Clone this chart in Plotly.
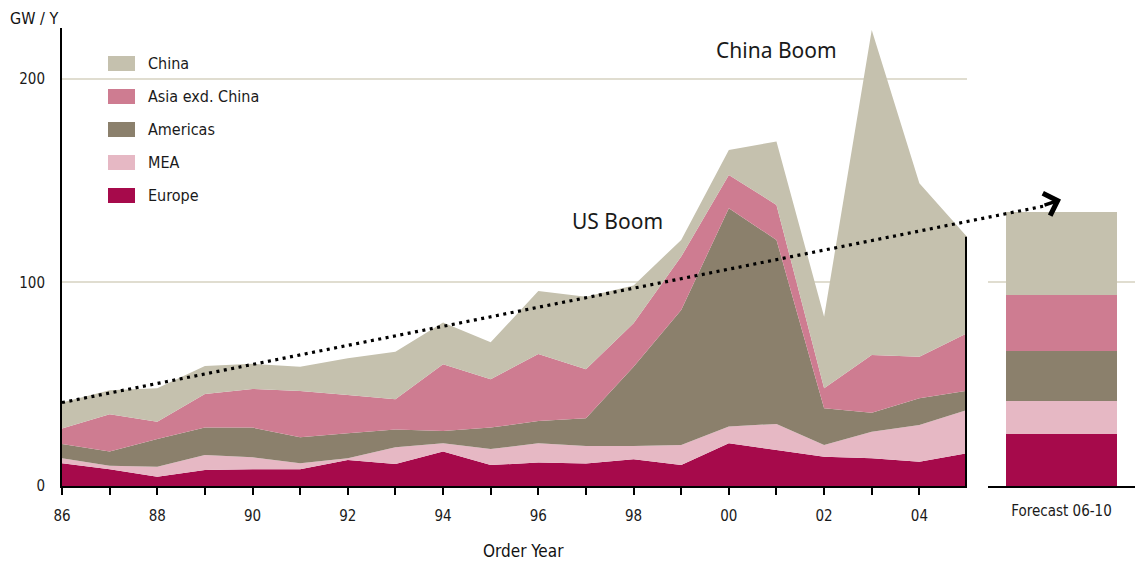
import plotly.graph_objects as go

# ---------------- data ----------------
years = list(range(1986, 2006))
tick_labels = ["86", "", "88", "", "90", "", "92", "", "94", "", "96", "", "98", "", "00", "", "02", "", "04"]

series_names = ["Europe", "MEA", "Americas", "Asia exd. China", "China"]
europe   = [11.2, 8.2, 4.6, 7.9, 8.2, 8.2, 12.8, 10.8, 16.9, 10.3, 11.5, 11.1, 13.1, 10.3, 21.0, 17.7, 14.4, 13.6, 11.9, 16.1]
mea      = [2.4, 1.8, 4.9, 7.3, 5.9, 3.0, 0.8, 8.2, 4.1, 7.9, 9.5, 8.6, 6.6, 9.8, 8.2, 12.8, 5.7, 13.1, 18.1, 21.2]
americas = [7.0, 6.9, 13.6, 13.5, 14.6, 12.7, 12.3, 8.8, 6.0, 10.5, 10.9, 13.6, 38.9, 66.4, 107.2, 90.4, 18.1, 9.3, 13.1, 9.5]
asia     = [7.7, 18.3, 8.5, 16.5, 19.0, 22.8, 18.8, 14.8, 32.8, 23.7, 33.0, 24.0, 21.4, 26.2, 16.4, 17.2, 9.8, 28.4, 20.4, 28.2]
china    = [12.7, 11.8, 16.4, 13.8, 12.3, 11.9, 18.0, 23.4, 20.5, 18.2, 30.9, 35.7, 18.5, 8.2, 12.3, 31.1, 35.2, 159.6, 85.2, 47.5]

forecast_label = "Forecast 06-10"
forecast = [25.4, 16.5, 24.6, 27.4, 40.6]   # Europe, MEA, Americas, Asia exd. China, China

trend_start = 41.0    # GW/Y at 1986
trend_end = 137.5     # GW/Y at arrow tail (forecast side)

# ---------------- styling ----------------
colors = ["#a60a4b", "#e6b8c4", "#8b806c", "#ce7c91", "#c5c1ae"]
grid_color = "#e0ddd0"
narrow = "Liberation Sans Narrow, DejaVu Sans Condensed, Roboto Condensed, Arial Narrow, sans-serif"
normal = "Noto Sans, Open Sans, sans-serif"

W, H = 1135, 565
ML, MR, MT, MB = 62, 0, 28, 79
PW, PH = W - ML - MR, H - MT - MB
YMAX = 225
main_dom = [0, 905 / PW]
fc_dom = [926 / PW, 1.0]

fig = go.Figure()
values = [europe, mea, americas, asia, china]
for name, vals, col in zip(series_names, values, colors):
    fig.add_trace(go.Scatter(
        x=years, y=vals, name=name, stackgroup="one", mode="none",
        fillcolor=col, line=dict(width=0), showlegend=False,
        xaxis="x", yaxis="y"))

# vertical edge line at last year
total_last = sum(v[-1] for v in values)
fig.add_trace(go.Scatter(x=[years[-1], years[-1]], y=[0, total_last], mode="lines",
                         line=dict(color="black", width=4), showlegend=False,
                         xaxis="x", yaxis="y"))

for name, val, col in zip(series_names, forecast, colors):
    fig.add_trace(go.Bar(x=[forecast_label], y=[val], name=name, marker=dict(color=col, line=dict(width=0)),
                         showlegend=False, xaxis="x2", yaxis="y2"))

# ---------------- helpers ----------------
def px_to_paper_x(px):
    return (px - ML) / PW

def px_to_paper_y(py):
    return (MT + PH - py) / PH

def yr_to_paper_x(yr):
    return main_dom[0] + (yr - years[0]) / (years[-1] - years[0]) * (main_dom[1] - main_dom[0])

# trend dotted line
x_tail = px_to_paper_x(1044)
fig.add_shape(type="line", xref="paper", yref="paper",
              x0=yr_to_paper_x(years[0]), y0=trend_start / YMAX,
              x1=x_tail, y1=trend_end / YMAX,
              line=dict(color="black", width=3.2, dash="3px,4.5px"))
fig.add_annotation(xref="paper", yref="paper", x=px_to_paper_x(1061), y=(trend_end + 3.2) / YMAX,
                   ax=-18, ay=6, text="", showarrow=True, arrowhead=4, arrowsize=1.25,
                   arrowwidth=3.6, arrowcolor="black")

# custom legend
legend_order = list(reversed(range(len(series_names))))
for i, idx in enumerate(legend_order):
    cy = 63 + 33 * i
    fig.add_shape(type="rect", xref="paper", yref="paper",
                  x0=px_to_paper_x(108), x1=px_to_paper_x(135),
                  y0=px_to_paper_y(cy + 8), y1=px_to_paper_y(cy - 7),
                  fillcolor=colors[idx], line=dict(width=0))
    fig.add_annotation(xref="paper", yref="paper", x=px_to_paper_x(146), y=px_to_paper_y(cy),
                       xanchor="left", yanchor="middle", text=series_names[idx], showarrow=False,
                       font=dict(family=narrow, size=16, color="#1a1a1a"))

# text annotations
fig.add_annotation(xref="x", yref="y", x=2001.0, y=214, text="China Boom", showarrow=False,
                   font=dict(family=normal, size=21, color="#1a1a1a"))
fig.add_annotation(xref="x", yref="y", x=1997.67, y=130, text="US Boom", showarrow=False,
                   font=dict(family=normal, size=21, color="#1a1a1a"))
fig.add_annotation(xref="paper", yref="paper", x=0, y=1, xanchor="right", yanchor="middle",
                   xshift=-2, yshift=10, text="GW / Y", showarrow=False,
                   font=dict(family=narrow, size=16, color="#111111"))
fig.add_annotation(xref="paper", yref="paper", x=px_to_paper_x(523), y=0, yanchor="middle",
                   yshift=-65, text="Order Year", showarrow=False,
                   font=dict(family=narrow, size=17, color="#111111"))

fig.update_layout(
    width=W, height=H,
    margin=dict(l=ML, r=MR, t=MT, b=MB),
    paper_bgcolor="white", plot_bgcolor="white",
    barmode="stack", bargap=0.245,
    showlegend=False,
    xaxis=dict(domain=main_dom, range=[years[0], years[-1]], anchor="y",
               tickvals=years[:-1], ticktext=tick_labels,
               ticks="outside", ticklen=7, tickwidth=1.5, tickcolor="black",
               showline=True, linecolor="black", linewidth=2, showgrid=False, zeroline=False,
               ticklabelstandoff=8,
               tickfont=dict(family=narrow, size=15, color="#1a1a1a")),
    yaxis=dict(domain=[0, 1], range=[0, YMAX], anchor="x",
               tickvals=[0, 100, 200], ticks="", showline=True, linecolor="black", linewidth=2,
               showgrid=True, gridcolor=grid_color, gridwidth=1.5, zeroline=False,
               ticklabelstandoff=12,
               tickfont=dict(family=narrow, size=15, color="#1a1a1a")),
    xaxis2=dict(domain=fc_dom, anchor="y2", ticks="", showline=True, linecolor="black", linewidth=2,
                showgrid=False, zeroline=False, ticklabelstandoff=10,
                tickfont=dict(family=narrow, size=15, color="#1a1a1a")),
    yaxis2=dict(domain=[0, 1], range=[0, YMAX], anchor="x2", tickvals=[100],
                showticklabels=False, ticks="", showline=False,
                showgrid=True, gridcolor=grid_color, gridwidth=1.5, zeroline=False),
)

fig.write_html("out.html")
